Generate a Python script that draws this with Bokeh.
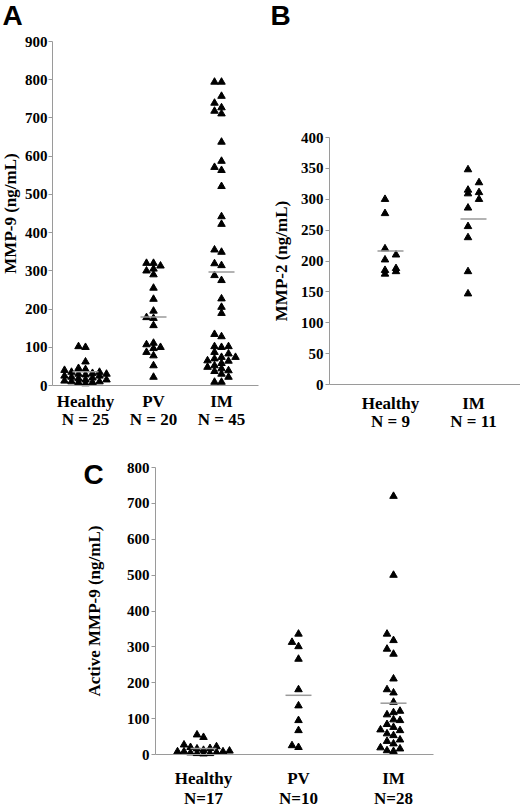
from bokeh.plotting import figure
from bokeh.layouts import column, row
from bokeh.models import Range1d, LinearAxis, FixedTicker, Label
from bokeh.embed import file_html
from bokeh.resources import INLINE

# panel A - MMP-9
a_groups = ["Healthy", "PV", "IM"]
a_counts = ["N = 25", "N = 20", "N = 45"]
a_healthy = [100, 102, 62, 45, 42, 40, 35, 35, 32, 30, 30, 28, 25, 25, 22, 20, 18, 15, 15, 12, 10, 10, 8, 8, 5]
a_pv = [313, 320, 320, 305, 300, 290, 255, 226, 195, 176, 178, 157, 107, 100, 111, 97, 87, 78, 52, 22]
a_im = [794, 794, 757, 739, 727, 718, 711, 637, 587, 571, 563, 521, 442, 422, 355, 349, 319, 314, 288, 275,
        227, 205, 189, 134, 128, 102, 102, 100, 87, 83, 74, 74, 70, 65, 64, 58, 52, 48, 44, 39, 37, 30, 22, 9, 9]
a_means = [36, 179, 297]
a_ticks = [0, 100, 200, 300, 400, 500, 600, 700, 800, 900]

# panel B - MMP-2
b_groups = ["Healthy", "IM"]
b_counts = ["N = 9", "N = 11"]
b_healthy = [300, 277, 220, 210, 202, 188, 185, 183, 179]
b_im = [348, 327, 315, 311, 309, 300, 286, 256, 238, 183, 147]
b_means = [216, 268]
b_ticks = [0, 50, 100, 150, 200, 250, 300, 350, 400]

# panel C - active MMP-9
c_groups = ["Healthy", "PV", "IM"]
c_counts = ["N=17", "N=10", "N=28"]
c_healthy = [55, 48, 27, 22, 20, 17, 16, 12, 10, 8, 8, 8, 6, 5, 3, 3, 2]
c_pv = [336, 313, 301, 266, 181, 136, 95, 67, 25, 20]
c_im = [720, 500, 336, 318, 294, 280, 211, 181, 172, 146, 121, 117, 111, 97, 95, 84, 76, 69, 67, 58,
        53, 41, 37, 30, 19, 16, 11, 9]
c_means = [17, 165, 143]
c_ticks = [0, 100, 200, 300, 400, 500, 600, 700, 800]

SERIF = "Liberation Serif"
GREY = "#9a9a9a"


def lin(px_a, v_a, px_b, v_b):
    # pixel -> value map along one direction of a figure
    k = (v_b - v_a) / (px_b - px_a)
    return lambda px: v_a + (px - px_a) * k


def swarm(vals, px_unit, px_cat, dx, dy, cands):
    # simple column swarm so the triangles don't sit on top of each other
    order = sorted(range(len(vals)), key=lambda i: vals[i])
    placed = []
    cols = [0] * len(vals)
    for i in order:
        y = vals[i] * px_unit
        best, bestd = None, -1
        for c in cands:
            d = min([abs(y - yy) for cc, yy in placed if cc == c] or [1e9])
            if d >= dy:
                best = c
                break
            if d > bestd:
                best, bestd = c, d
        placed.append((best, y))
        cols[i] = best
    return [c * dx / px_cat for c in cols]


def panel(groups, counts, series, means, ticks, ylabel, letter, geo, dx, dy, cands):
    w, h = geo["size"]
    (xa, xb), (ya_, yb) = geo["xanchor"], geo["yanchor"]
    fx = lin(xa, 1, xb, len(groups) if len(groups) > 2 else 2)
    fy = lin(ya_, 0, yb, ticks[-1])
    p = figure(width=w, height=h, output_backend="svg", toolbar_location=None,
               x_range=Range1d(fx(0), fx(w)), y_range=Range1d(fy(h), fy(0)),
               x_axis_location=None, min_border=0)
    p.outline_line_color = None
    p.grid.visible = False
    px_cat = 1 / (fx(1) - fx(0))
    px_unit = 1 / (fy(0) - fy(1))

    x_axis = fx(geo["axis"])
    x_end = fx(geo["xend"])
    pos = list(range(1, len(groups) + 1))
    for k, vals in enumerate(series):
        offs = swarm(vals, px_unit, px_cat, dx, dy, cands)
        p.scatter([pos[k] + o for o in offs], vals, marker="triangle", size=7.5, color="black")
    half = 13 / px_cat
    p.segment([x - half for x in pos], means, [x + half for x in pos], means,
              line_color=GREY, line_width=1.5)

    ya = p.yaxis[0]
    ya.fixed_location = x_axis
    ya.ticker = FixedTicker(ticks=ticks)
    ya.bounds = (0, ticks[-1])
    ya.axis_line_color = GREY
    ya.major_tick_line_color = GREY
    ya.minor_tick_line_color = None
    ya.major_tick_in = 0
    ya.major_tick_out = 4
    ya.major_label_standoff = geo["tick_so"]
    ya.major_label_text_font = SERIF
    ya.major_label_text_font_style = "bold"
    ya.major_label_text_font_size = "15px"
    ya.major_label_text_color = "black"
    ya.axis_label = ylabel
    ya.axis_label_text_font = SERIF
    ya.axis_label_text_font_style = "bold"
    ya.axis_label_text_font_size = "17px"
    ya.axis_label_text_color = "black"
    ya.axis_label_standoff = geo["label_so"]

    for labels, so, line in ((groups, geo["cat_so"][0], GREY), (counts, geo["cat_so"][1], None)):
        ax = LinearAxis(ticker=FixedTicker(ticks=pos), fixed_location=0, bounds=(x_axis, x_end),
                        major_label_overrides={x: t for x, t in zip(pos, labels)})
        ax.axis_line_color = line
        ax.major_tick_line_color = None
        ax.minor_tick_line_color = None
        ax.major_tick_in = 0
        ax.major_tick_out = 0
        ax.major_label_standoff = so
        ax.major_label_text_font = SERIF
        ax.major_label_text_font_style = "bold"
        ax.major_label_text_font_size = "17px"
        ax.major_label_text_color = "black"
        p.add_layout(ax, "below")

    lx, ly = geo["letter"]
    p.add_layout(Label(x=fx(lx), y=fy(ly), text=letter,
                       text_font="Liberation Sans", text_font_style="bold", text_font_size="28px",
                       text_color="black", text_baseline="alphabetic"))
    return p


# figure geometry in pixels of each figure (layout only)
geo_a = dict(size=(265, 440), xanchor=(85, 221), yanchor=(385, 41), axis=52, xend=258,
             letter=(2, 15), tick_so=1, label_so=2, cat_so=(6, 24))
geo_b = dict(size=(255, 440), xanchor=(125, 208), yanchor=(384, 137), axis=64, xend=255,
             letter=(5, 15), tick_so=2, label_so=7, cat_so=(9, 27))
geo_c = dict(size=(520, 366), xanchor=(203, 393), yanchor=(314, 27), axis=155, xend=433,
             letter=(83, 34), tick_so=2, label_so=20, cat_so=(14, 34))

pa = panel(a_groups, a_counts, [a_healthy, a_pv, a_im], a_means, a_ticks, "MMP-9 (ng/mL)", "A",
           geo_a, 7, 5, [0, -1, 1, -2, 2, -3, 3])
pb = panel(b_groups, b_counts, [b_healthy, b_im], b_means, b_ticks, "MMP-2 (ng/mL)", "B",
           geo_b, 11, 9, [-0.5, 0.5])
pc = panel(c_groups, c_counts, [c_healthy, c_pv, c_im], c_means, c_ticks, "Active MMP-9 (ng/mL)", "C",
           geo_c, 6.5, 7, [0, -1, 1, -2, 2, -3, 3, -4, 4])

layout = column(row(pa, pb), pc)
open("out.html", "w").write(file_html(layout, INLINE))
